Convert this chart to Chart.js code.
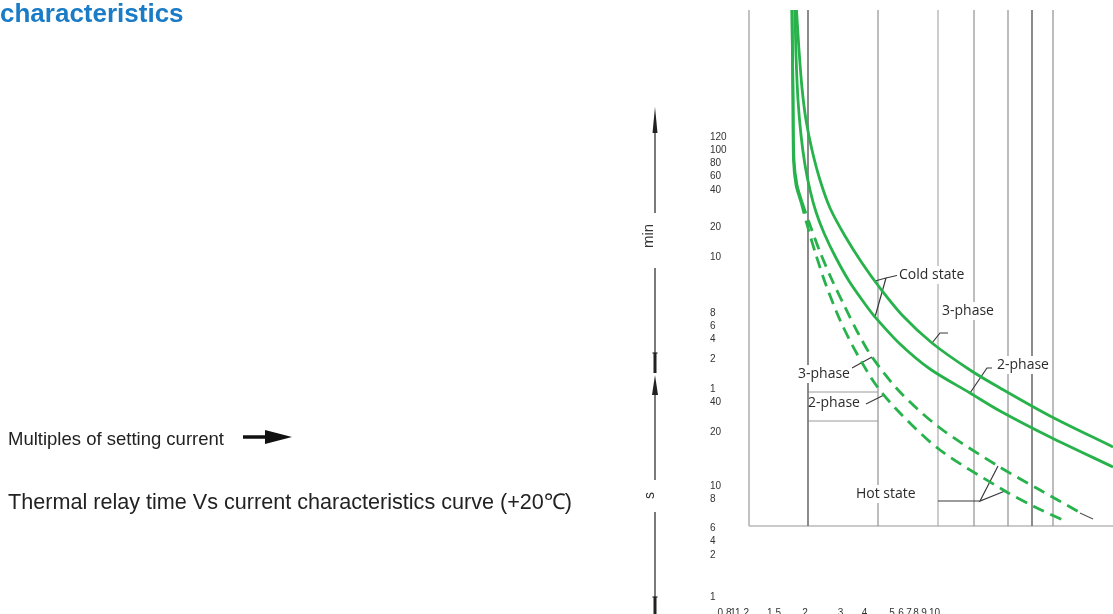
<!DOCTYPE html>
<html>
<head>
<meta charset="utf-8">
<title>Thermal relay time vs current</title>
<script src="https://cdn.jsdelivr.net/npm/chart.js"></script>
<style>
  html, body { margin: 0; padding: 0; width: 1113px; height: 614px; overflow: hidden; background: #fff; }
  #chart { position: absolute; left: 0; top: 0; }
  svg.deco { position: absolute; left: 0; top: 0; pointer-events: none; font-family: "Liberation Sans", Arial, sans-serif; }
</style>
</head>
<body>
<canvas id="chart" width="1113" height="622"></canvas>
<svg class="deco" width="700" height="614" viewBox="0 0 700 614">
  <text x="0" y="22" font-size="26" font-weight="bold" fill="#1a7bc6">characteristics</text>
  <text x="8" y="445" font-size="18.5" fill="#222">Multiples of setting current</text>
  <line x1="243" y1="437" x2="268" y2="437" stroke="#111" stroke-width="3.5"/>
  <polygon points="265,430 292,437 265,444" fill="#111"/>
  <text x="8" y="509" font-size="21.6" fill="#222">Thermal relay time Vs current characteristics curve (+20℃)</text>

  <!-- time axis arrows on the left -->
  <g stroke="#222" stroke-width="1.2">
    <line x1="655" y1="128" x2="655" y2="213"/>
    <line x1="655" y1="268" x2="655" y2="353"/>
    <line x1="652.5" y1="353" x2="657.5" y2="353"/>
    <line x1="655" y1="393" x2="655" y2="480"/>
    <line x1="655" y1="512" x2="655" y2="598"/>
    <line x1="652.5" y1="597" x2="657.5" y2="597"/>
  </g>
  <rect x="653.5" y="353" width="3" height="20" fill="#222"/>
  <rect x="653.5" y="597" width="3" height="17" fill="#222"/>
  <polygon points="655,107 652.5,133 657.5,133" fill="#222"/>
  <polygon points="655,375 652,395 658,395" fill="#222"/>
  <text transform="translate(653,236) rotate(-90)" text-anchor="middle" font-size="15" fill="#333">min</text>
  <text transform="translate(654,495.5) rotate(-90)" text-anchor="middle" font-size="14" fill="#333">s</text>
</svg>

<script>
// tick labels (positions on the printed scale, labels as printed)
const xTickPos = [4.9, 6.6, 8.4, 14.8, 21.0, 28.1, 32.9, 38.4, 40.2, 41.8, 43.2, 44.8, 46.9];
const xTickLabels = ['0.8', '1', '1.2', '1.5', '2', '3', '4', '5', '6', '7', '8', '9', '10'];

const yTickPos = [93.3, 90.8, 88.1, 85.6, 82.8, 75.3, 69.4, 58.1, 55.5, 52.9, 48.9, 43.0, 40.3, 34.4, 23.6, 20.9, 15.1, 12.5, 9.8, 1.3];
const yTickLabels = ['120', '100', '80', '60', '40', '20', '10', '8', '6', '4', '2', '1', '40', '20', '10', '8', '6', '4', '2', '1'];

// cold state curves (solid)
const cold3X = [19.3, 19.8, 20.4, 21.2, 22.4, 24.0, 26.0, 29.0, 32.4, 36.0, 40.6, 46.4, 54.0, 60.0, 70.0, 82.6];
const cold3Y = [118.8, 110.8, 103.2, 96.8, 90.8, 84.8, 79.2, 73.6, 68.2, 63.2, 57.6, 52.2, 46.8, 43.2, 37.6, 31.4];
const cold2X = [19.0, 19.2, 19.6, 20.2, 21.0, 22.0, 23.2, 24.8, 27.0, 29.8, 33.0, 35.0, 40.0, 46.0, 54.0, 60.0, 70.0, 82.6];
const cold2Y = [118.8, 109.8, 100.8, 93.8, 87.8, 82.8, 78.4, 74.2, 69.6, 64.6, 60.0, 57.4, 52.0, 47.0, 42.2, 38.6, 33.4, 27.4];

// hot state curves (dashed)
const hot3X = [18.4, 18.6, 18.8, 19.4, 20.4, 22.0, 24.0, 26.4, 29.0, 31.6, 34.4, 40.0, 48.0, 59.6, 68.0, 75.8];
const hot3Y = [118.8, 100.8, 88.8, 83.8, 80.4, 75.8, 70.4, 64.8, 59.4, 54.2, 49.4, 42.4, 35.2, 27.6, 22.8, 18.4];
const hot2X = [18.4, 18.6, 18.7, 19.2, 20.2, 21.6, 23.2, 25.2, 28.0, 31.2, 35.2, 40.0, 48.0, 61.0, 67.0, 73.0];
const hot2Y = [118.8, 100.8, 88.8, 83.8, 80.4, 75.2, 69.8, 63.8, 56.8, 50.4, 43.8, 38.2, 30.8, 22.6, 19.4, 16.6];

// frame and grid
const gridX = [9.8, 21.6, 35.6, 47.6, 54.8, 61.6, 66.4, 70.6];
const frameTop = 118.8;
const frameBottom = 15.6;
const frameRight = 82.6;
const boxY = [42.4, 36.6];

// leader lines to the notes
const leadCold = [[39.8, 65.8], [37.2, 65.2], [35.0, 64.6], [37.2, 65.2], [35.0, 57.4]];
const lead3Cold = [[49.6, 54.2], [48.0, 54.2], [46.4, 52.2]];
const lead2Cold = [[58.4, 47.2], [57.4, 47.2], [54.0, 42.2]];
const lead3Hot = [[30.4, 47.2], [34.4, 49.4]];
const lead2Hot = [[33.2, 40.0], [36.8, 41.8]];
const leadHot = [[47.6, 20.6], [56.0, 20.6], [59.6, 27.6], [56.0, 20.6], [61.0, 22.6]];
const tailMark = [[76.0, 18.2], [78.6, 17.0]];

// notes
const noteText = ['Cold state', '3-phase', '2-phase', '3-phase', '2-phase', 'Hot state'];
const noteX = [39.8, 48.4, 59.4, 19.6, 21.6, 31.2];
const noteY = [65.8, 58.6, 47.8, 46.0, 40.2, 22.0];

const green = '#27b24b';
const dash = [12, 7];

const toPts = (xs, ys) => xs.map((v, i) => ({ x: v, y: ys[i] }));
const pairPts = list => list.map(p => ({ x: p[0], y: p[1] }));

function curve(xs, ys, hot) {
  return {
    data: toPts(xs, ys),
    borderColor: green,
    borderWidth: 2.8,
    borderDash: hot ? dash : [],
    segment: hot ? { borderDash: c => (c.p1.parsed.y >= 80 ? [] : dash) } : {},
    tension: 0.3,
    order: 0
  };
}

function leader(list, color) {
  return { data: pairPts(list), borderColor: color || '#3a3a3a', borderWidth: 1.2, tension: 0, order: 1 };
}

function gridShade(i) {
  if (i === 0) return '#b8b8b8';
  if (i === 1 || i === 6) return '#787878';
  if (i === 3) return '#acacac';
  return '#929292';
}

const datasets = [
  curve(cold3X, cold3Y, false),
  curve(cold2X, cold2Y, false),
  curve(hot3X, hot3Y, true),
  curve(hot2X, hot2Y, true),
  leader(leadCold), leader(lead3Cold), leader(lead2Cold),
  leader(lead3Hot), leader(lead2Hot), leader(leadHot), leader(tailMark, '#555')
];

gridX.forEach((gx, i) => {
  datasets.push({
    data: [{ x: gx, y: frameTop }, { x: gx, y: frameBottom }],
    borderColor: gridShade(i),
    borderWidth: (i === 0 || i === 1 || i === 6) ? 1.7 : 1.2,
    tension: 0,
    order: 2
  });
});
datasets.push({
  data: [{ x: gridX[0], y: frameBottom }, { x: frameRight, y: frameBottom }],
  borderColor: '#b8b8b8', borderWidth: 1.7, tension: 0, order: 2
});
boxY.forEach(by => {
  datasets.push({
    data: [{ x: gridX[1], y: by }, { x: gridX[2], y: by }],
    borderColor: '#9a9a9a', borderWidth: 1, tension: 0, order: 2
  });
});

// note texts, white box behind so grid lines break around them
const notePlugin = {
  id: 'notes',
  afterDatasetsDraw(chart) {
    const { ctx, scales: { x, y } } = chart;
    ctx.save();
    ctx.font = '14px "Open Sans", sans-serif';
    ctx.textBaseline = 'middle';
    ctx.textAlign = 'left';
    noteText.forEach((t, i) => {
      const px = x.getPixelForValue(noteX[i]);
      const py = y.getPixelForValue(noteY[i]);
      const w = ctx.measureText(t).width;
      if (i !== 4) {
        ctx.fillStyle = '#fff';
        ctx.fillRect(px - 2, py - 9, w + 4, 18);
      }
      ctx.fillStyle = '#2b2b2b';
      ctx.fillText(t, px, py);
    });
    ctx.restore();
  }
};

Chart.defaults.font.family = '"Liberation Sans", Arial, sans-serif';

new Chart(document.getElementById('chart'), {
  type: 'line',
  data: { datasets: datasets },
  options: {
    responsive: false,
    animation: false,
    events: [],
    layout: { padding: { left: 710, top: 10, right: 0, bottom: 0 } },
    elements: { point: { radius: 0 } },
    plugins: { legend: { display: false }, tooltip: { enabled: false } },
    scales: {
      x: {
        type: 'linear',
        min: 2,
        max: 82.6,
        grid: { display: false, drawTicks: false },
        border: { display: false },
        afterBuildTicks: s => { s.ticks = xTickPos.map(v => ({ value: v })); },
        ticks: {
          autoSkip: false, maxRotation: 0, minRotation: 0, padding: 3,
          color: '#333', font: { size: 10 },
          callback: (v, i) => xTickLabels[i]
        }
      },
      y: {
        type: 'linear',
        min: 0,
        max: 118.8,
        grid: { display: false, drawTicks: false },
        border: { display: false },
        afterBuildTicks: s => { s.ticks = yTickPos.map(v => ({ value: v })); },
        ticks: {
          mirror: true, padding: 0, autoSkip: false,
          color: '#333', font: { size: 10 },
          callback: (v, i) => yTickLabels[i]
        }
      }
    }
  },
  plugins: [notePlugin]
});
</script>
</body>
</html>
